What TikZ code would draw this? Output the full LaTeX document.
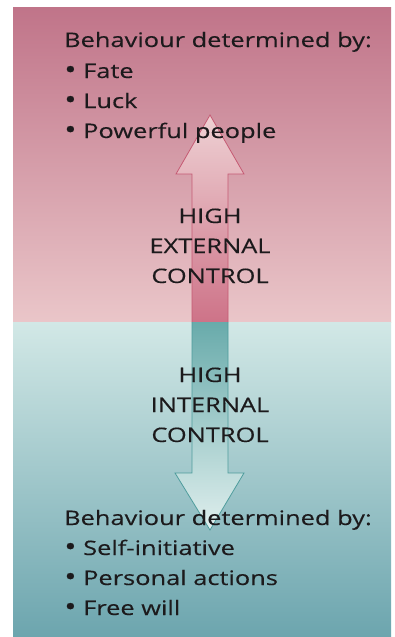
\documentclass[tikz,border=0pt]{standalone}
\usepackage{fontspec}
\setmainfont{Open Sans}
\newfontfamily\widefont[FakeStretch=1.27,FakeBold=0.3]{Open Sans}
\usetikzlibrary{calc}
\definecolor{pinktop}{HTML}{C07489}
\definecolor{pinkbot}{HTML}{EAC6C9}
\definecolor{tealtop}{HTML}{D2E8E6}
\definecolor{tealbot}{HTML}{6CA5AE}
\definecolor{pinkline}{HTML}{C55A73}
\definecolor{tealline}{HTML}{4E9C9C}
\definecolor{txt}{HTML}{1C1A1C}
\newcommand{\bul}{\raisebox{-0.6pt}{\scalebox{1.3}{•}}}
\tikzset{
  lbl/.style={font=\widefont\fontsize{20}{24}\selectfont, text=txt, inner sep=0pt, anchor=base west},
  mid/.style={font=\widefont\fontsize{20}{24}\selectfont, text=txt, inner sep=0pt, anchor=base},
}
\begin{document}
\begin{tikzpicture}[x=1pt,y=-1pt]
\useasboundingbox (0,0) rectangle (394,637);
\fill[white] (0,0) rectangle (394,637);
% panels
\shade[top color=pinktop, bottom color=pinkbot] (13,7) rectangle (391,322);
\shade[top color=tealtop, bottom color=tealbot] (13,322) rectangle (391,637);
% up arrow
\shade[top color=pinkbot!80!white, bottom color=pinkline!85!white, draw=pinkline, line width=0.8pt]
  (192,322) -- (192,174) -- (176,174) -- (210,115) -- (244,174) -- (228,174) -- (228,322);
% down arrow
\shade[top color=tealline!85!white, bottom color=tealtop!70!white, draw=tealline, line width=0.8pt]
  (192,322) -- (192,473) -- (175,473) -- (210,530) -- (244,473) -- (228,473) -- (228,322);
% top text
\node[lbl] (t0) at (64,47) {Behaviour determined by:};
\node[lbl] (t1) at (64,78) {\bul{} Fate};
\node[lbl] (t2) at (64,108) {\bul{} Luck};
\node[lbl] (t3) at (64,138) {\bul{} Powerful people};
% middle
\node[mid] (e1) at (210,223) {HIGH};
\node[mid] (e2) at (210,253) {EXTERNAL};
\node[mid] (e3) at (210,283) {CONTROL};
\node[mid] (i1) at (210,382) {HIGH};
\node[mid] (i2) at (210,412) {INTERNAL};
\node[mid] (i3) at (210,442) {CONTROL};
% bottom text
\node[lbl] (b0) at (64,525) {Behaviour determined by:};
\node[lbl] (b1) at (64,555) {\bul{} Self-initiative};
\node[lbl] (b2) at (64,585) {\bul{} Personal actions};
\node[lbl] (b3) at (64,615) {\bul{} Free will};
\end{tikzpicture}
\end{document}
